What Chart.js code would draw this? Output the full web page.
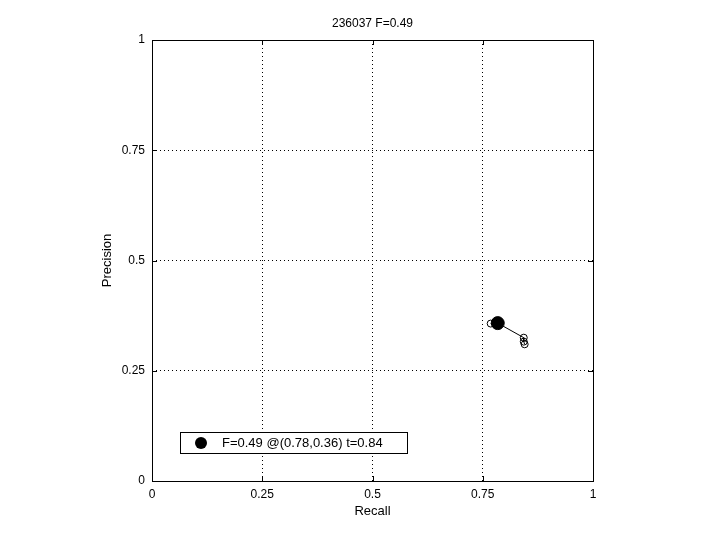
<!DOCTYPE html>
<html>
<head>
<meta charset="utf-8">
<script src="https://cdn.jsdelivr.net/npm/chart.js@4.4.0/dist/chart.umd.min.js"></script>
<style>
  html, body { margin: 0; padding: 0; background: #fff; }
  #wrap { width: 720px; height: 540px; }
</style>
</head>
<body>
<div id="wrap"><canvas id="prChart" width="720" height="540"></canvas></div>
<script>
// Data
const titleText = "236037 F=0.49";
const recallVals = [0.768, 0.784, 0.843, 0.843, 0.845];
const precisionVals = [0.357, 0.358, 0.325, 0.316, 0.31];
const bestPoint = [0.784, 0.358];
const legendText = "F=0.49 @(0.78,0.36) t=0.84";
const tickVals = [0, 0.25, 0.5, 0.75, 1];
const tickLabels = ["0", "0.25", "0.5", "0.75", "1"];

const FONT = "'Liberation Sans', Arial, sans-serif";

// Box, inward ticks, titles and legend
const framePlugin = {
  id: "frame",
  afterDraw(chart) {
    const { ctx, chartArea: a, scales } = chart;
    ctx.save();
    ctx.strokeStyle = "#000";
    ctx.lineWidth = 1;
    ctx.strokeRect(a.left + 0.5, a.top + 0.5, a.right - a.left, a.bottom - a.top);

    // small ticks pointing inside on every side
    ctx.beginPath();
    tickVals.forEach(v => {
      const x = Math.round(scales.x.getPixelForValue(v)) + 0.5;
      ctx.moveTo(x, a.bottom); ctx.lineTo(x, a.bottom - 5);
      ctx.moveTo(x, a.top); ctx.lineTo(x, a.top + 5);
      const y = Math.round(scales.y.getPixelForValue(v)) + 0.5;
      ctx.moveTo(a.left, y); ctx.lineTo(a.left + 5, y);
      ctx.moveTo(a.right, y); ctx.lineTo(a.right - 5, y);
    });
    ctx.stroke();

    ctx.fillStyle = "#000";
    ctx.textAlign = "center";
    ctx.textBaseline = "middle";
    ctx.font = "12px " + FONT;
    ctx.fillText(titleText, (a.left + a.right) / 2, 24);

    ctx.font = "13px " + FONT;
    ctx.fillText("Recall", (a.left + a.right) / 2, 511);
    ctx.save();
    ctx.translate(107, (a.top + a.bottom) / 2);
    ctx.rotate(-Math.PI / 2);
    ctx.fillText("Precision", 0, 0);
    ctx.restore();

    // legend box
    const lx = 180, ly = 432, lw = 227, lh = 21;
    ctx.fillStyle = "#fff";
    ctx.fillRect(lx, ly, lw, lh);
    ctx.strokeRect(lx + 0.5, ly + 0.5, lw, lh);
    ctx.fillStyle = "#000";
    ctx.beginPath();
    ctx.arc(201, ly + lh / 2 + 0.5, 6, 0, Math.PI * 2);
    ctx.fill();
    ctx.textAlign = "left";
    ctx.font = "13px " + FONT;
    ctx.fillText(legendText, 222, ly + lh / 2 + 1);
    ctx.restore();
  }
};

const gridStyle = {
  color: "#000",
  lineWidth: 1,
  drawTicks: false
};

const tickOpts = {
  color: "#000",
  font: { family: FONT, size: 12 },
  callback: (v) => tickLabels[tickVals.indexOf(v)] ?? ""
};

new Chart(document.getElementById("prChart"), {
  type: "scatter",
  data: {
    datasets: [
      {
        label: "curve",
        data: recallVals.map((r, i) => ({ x: r, y: precisionVals[i] })),
        showLine: true,
        borderColor: "#000",
        borderWidth: 1,
        pointRadius: 3.5,
        pointBorderWidth: 1,
        pointBackgroundColor: "rgba(0,0,0,0)",
        pointBorderColor: "#000"
      },
      {
        label: "best",
        data: [{ x: bestPoint[0], y: bestPoint[1] }],
        pointRadius: 6.5,
        pointBackgroundColor: "#000",
        pointBorderColor: "#000"
      }
    ]
  },
  options: {
    responsive: false,
    animation: false,
    layout: { padding: { left: 0, right: 127, top: 40, bottom: 0 } },
    plugins: {
      legend: { display: false },
      tooltip: { enabled: false },
      title: { display: false }
    },
    scales: {
      x: {
        type: "linear",
        min: 0,
        max: 1,
        afterBuildTicks: s => { s.ticks = tickVals.map(v => ({ value: v })); },
        afterFit: s => { s.height = 59; },
        border: { display: false, dash: [1, 3] },
        grid: gridStyle,
        ticks: { ...tickOpts, padding: 6 }
      },
      y: {
        type: "linear",
        min: 0,
        max: 1,
        afterBuildTicks: s => { s.ticks = tickVals.map(v => ({ value: v })); },
        afterFit: s => { s.width = 152; },
        border: { display: false, dash: [1, 3] },
        grid: gridStyle,
        ticks: { ...tickOpts, padding: 7 }
      }
    }
  },
  plugins: [framePlugin]
});
</script>
</body>
</html>
